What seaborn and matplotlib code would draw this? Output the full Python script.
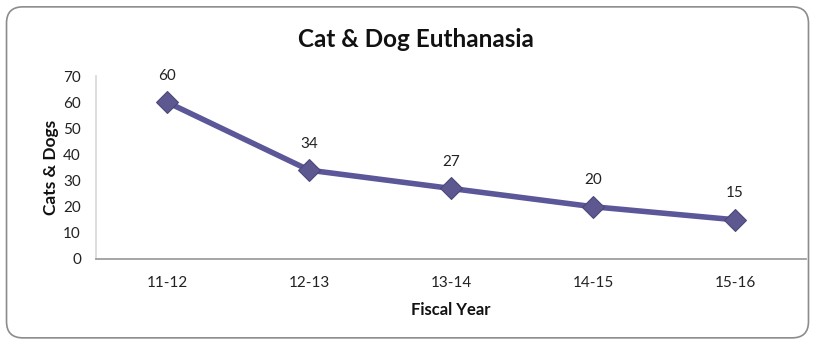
import matplotlib
matplotlib.use("Agg")
import matplotlib.pyplot as plt
import seaborn as sns
import pandas as pd
from matplotlib.patches import FancyBboxPatch

years = ["11-12", "12-13", "13-14", "14-15", "15-16"]
counts = [60, 34, 27, 20, 15]

sns.set_theme(style="white")
plt.rcParams['font.family'] = ['Lato', 'DejaVu Sans']

df = pd.DataFrame({"year": years, "count": counts})

fig = plt.figure(figsize=(8.15, 3.43), dpi=100)
ax = fig.add_axes([0.118, 0.245, 0.871, 0.533])

border = FancyBboxPatch((0.008, 0.015), 0.984, 0.965, boxstyle="round,pad=0,rounding_size=0.02",
                        transform=fig.transFigure, facecolor="white", edgecolor="#8c8c8c",
                        linewidth=1.2, zorder=-10, mutation_aspect=815/343)
fig.patches.append(border)

sns.lineplot(data=df, x="year", y="count", ax=ax, color="#5b5798", linewidth=4,
             marker="D", markersize=11, markerfacecolor="#5d5990",
             markeredgecolor="#4a4678", sort=False)

for i, v in enumerate(counts):
    ax.annotate(str(v), (i, v), xytext=(0, 14), textcoords="offset points",
                ha="center", va="bottom", fontsize=11, color="#222222")

ax.set_xlim(-0.5, 4.5)
ax.set_ylim(0, 70)
ax.set_yticks(range(0, 71, 10))
ax.set_facecolor("none")
for s in ["top", "right"]:
    ax.spines[s].set_visible(False)
ax.spines["left"].set_color("#d8d8d8")
ax.spines["bottom"].set_color("#9a9a9a")
ax.tick_params(axis="both", labelsize=11, colors="#222222", length=0)
ax.tick_params(axis="x", pad=12)
ax.tick_params(axis="y", pad=11)
ax.set_xlabel("Fiscal Year", fontsize=12, fontweight="bold", color="#111111", labelpad=9)
ax.set_ylabel("Cats & Dogs", fontsize=12.5, fontweight="bold", color="#111111", labelpad=3)
fig.text(0.51, 0.885, "Cat & Dog Euthanasia", ha="center", va="center",
         fontsize=17.5, fontweight="bold", color="#111111")

fig.savefig("out.png", dpi=100)
